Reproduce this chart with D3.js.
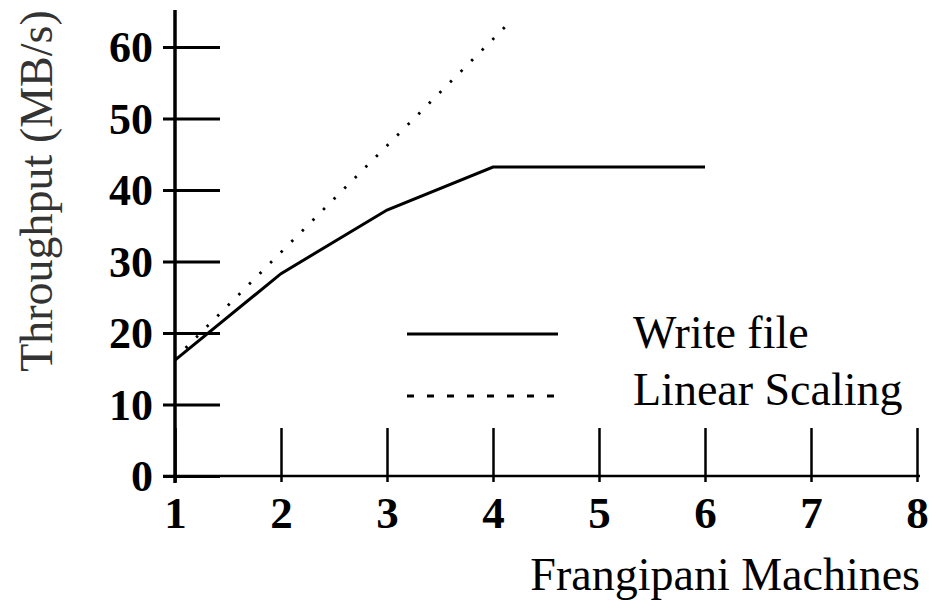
<!DOCTYPE html>
<html>
<head>
<meta charset="utf-8">
<script src="https://cdn.jsdelivr.net/npm/d3@7"></script>
<style>
  body { margin: 0; background: #fff; }
  svg text { font-family: "Liberation Serif", "Times New Roman", serif; }
</style>
</head>
<body>
<div id="container"></div>
<script>

// data
var machines = [1, 2, 3, 4, 5, 6];
var writeFile = [16.2, 28.3, 37.2, 43.2, 43.2, 43.2];
var linearX = [1, 2, 3, 4, 4.14];
var linearY = [16.4, 31.3, 46.2, 61.1, 63.2];
var xTicks = [1, 2, 3, 4, 5, 6, 7, 8];
var yTicks = [0, 10, 20, 30, 40, 50, 60];
var legendNames = ["Write file", "Linear Scaling"];

var width = 936, height = 602;

var svg = d3.select("div#container")
  .append("svg")
  .attr("width", width)
  .attr("height", height);

var x = d3.scaleLinear().domain([1, 8]).range([175, 917]);
var y = d3.scaleLinear().domain([0, 60]).range([476, 47]);

// x axis: ticks point up into the plot
var xAxis = svg.append("g")
  .attr("transform", "translate(0," + y(0) + ")")
  .call(d3.axisBottom(x).tickValues(xTicks).tickFormat(d3.format("d")).tickSizeOuter(0));
xAxis.select(".domain").remove();
xAxis.selectAll(".tick line")
  .attr("y1", -48).attr("y2", 6)
  .attr("stroke", "#000").attr("stroke-width", 2.5);
xAxis.selectAll(".tick text")
  .attr("y", 52).attr("dy", 0)
  .style("font-size", "45px").style("font-weight", "bold").attr("fill", "#000");
xAxis.append("line")
  .attr("x1", 163).attr("x2", 920)
  .attr("stroke", "#000").attr("stroke-width", 2.5);

// y axis: ticks stick out on both sides
var yAxis = svg.append("g")
  .attr("transform", "translate(" + x(1) + ",0)")
  .call(d3.axisLeft(y).tickValues(yTicks).tickFormat(d3.format("d")).tickSizeOuter(0));
yAxis.select(".domain").remove();
yAxis.selectAll(".tick line")
  .attr("x1", -12).attr("x2", 45)
  .attr("stroke", "#000").attr("stroke-width", 3);
yAxis.selectAll(".tick text")
  .attr("x", -22).attr("dy", "0.34em")
  .style("font-size", "44px").style("font-weight", "bold").attr("fill", "#000");
yAxis.append("line")
  .attr("y1", 10).attr("y2", 483)
  .attr("stroke", "#000").attr("stroke-width", 3.5);

// lines
var lineWrite = d3.line()
  .x(function(d, i) { return x(machines[i]); })
  .y(function(d) { return y(d); });
svg.append("path")
  .datum(writeFile)
  .attr("d", lineWrite)
  .attr("fill", "none").attr("stroke", "#000").attr("stroke-width", 3);

var lineLinear = d3.line()
  .x(function(d, i) { return x(linearX[i]); })
  .y(function(d) { return y(d); });
svg.append("path")
  .datum(linearY)
  .attr("d", lineLinear)
  .attr("fill", "none").attr("stroke", "#000").attr("stroke-width", 2.8)
  .attr("stroke-dasharray", "2.5,12.5");

// legend
var legend = svg.append("g");
legend.append("line")
  .attr("x1", 407).attr("x2", 558).attr("y1", 334).attr("y2", 334)
  .attr("stroke", "#000").attr("stroke-width", 3);
legend.append("line")
  .attr("x1", 407).attr("x2", 558).attr("y1", 396).attr("y2", 396)
  .attr("stroke", "#000").attr("stroke-width", 3)
  .attr("stroke-dasharray", "7,13");
legend.selectAll("text.leg")
  .data(legendNames)
  .enter().append("text")
  .attr("class", "leg")
  .attr("x", 633)
  .attr("y", function(d, i) { return 348 + i * 57; })
  .style("font-size", "46px")
  .attr("fill", "#000")
  .text(function(d) { return d; });

// axis titles
svg.append("text")
  .attr("transform", "translate(52,191) rotate(-90)")
  .attr("text-anchor", "middle")
  .style("font-size", "46px")
  .attr("fill", "#333")
  .text("Throughput (MB/s)");

svg.append("text")
  .attr("x", 920).attr("y", 590)
  .attr("text-anchor", "end")
  .style("font-size", "46px")
  .attr("fill", "#000")
  .text("Frangipani Machines");

</script>
</body>
</html>
